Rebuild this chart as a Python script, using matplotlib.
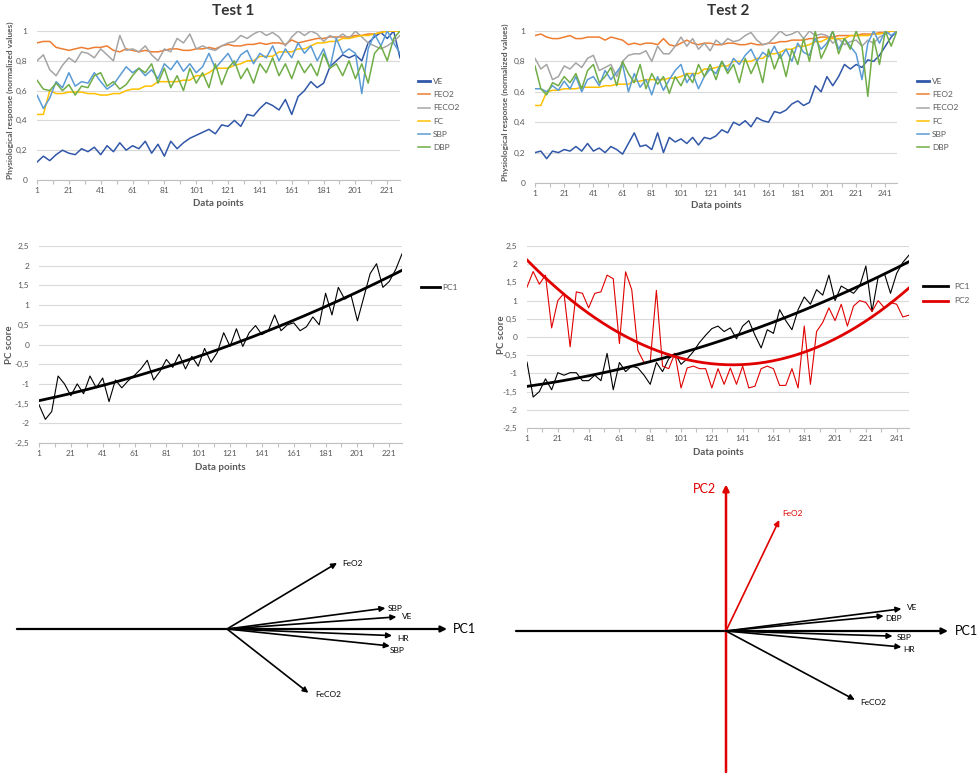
import numpy as np
import matplotlib.pyplot as plt
from matplotlib.ticker import FuncFormatter

plt.rcParams['font.family'] = ['Lato', 'DejaVu Sans']

# ---------------- data (read every 4th data point) ----------------
t1_x = np.arange(1, 230, 4)
t1_ve = [0.12, 0.16, 0.13, 0.17, 0.20, 0.18, 0.17, 0.21, 0.19, 0.22,
         0.17, 0.23, 0.19, 0.25, 0.20, 0.23, 0.21, 0.26, 0.18, 0.24,
         0.16, 0.26, 0.21, 0.25, 0.28, 0.30, 0.32, 0.34, 0.31, 0.37,
         0.36, 0.40, 0.36, 0.44, 0.43, 0.48, 0.52, 0.50, 0.47, 0.54,
         0.44, 0.56, 0.60, 0.66, 0.62, 0.65, 0.76, 0.80, 0.84, 0.82,
         0.84, 0.80, 0.92, 0.96, 0.99, 0.95, 1.00, 0.82]
t1_feo2 = [0.92, 0.93, 0.93, 0.89, 0.88, 0.87, 0.88, 0.89, 0.88, 0.89,
           0.89, 0.90, 0.87, 0.86, 0.88, 0.87, 0.86, 0.87, 0.86, 0.86,
           0.87, 0.88, 0.88, 0.87, 0.87, 0.88, 0.88, 0.89, 0.88, 0.90,
           0.91, 0.90, 0.90, 0.91, 0.91, 0.92, 0.91, 0.92, 0.92, 0.91,
           0.94, 0.92, 0.93, 0.94, 0.95, 0.95, 0.96, 0.96, 0.96, 0.96,
           0.97, 0.97, 0.98, 0.98, 0.99, 1.00, 1.00, 1.00]
t1_feco2 = [0.80, 0.84, 0.74, 0.70, 0.77, 0.82, 0.79, 0.86, 0.85, 0.82,
            0.88, 0.84, 0.80, 0.97, 0.87, 0.88, 0.86, 0.90, 0.84, 0.80,
            0.88, 0.86, 0.95, 0.92, 0.98, 0.88, 0.90, 0.88, 0.87, 0.90,
            0.92, 0.93, 0.97, 0.95, 0.98, 1.00, 0.97, 0.99, 0.96, 0.90,
            0.96, 1.00, 0.97, 1.00, 0.98, 0.93, 0.97, 0.95, 0.98, 0.95,
            1.00, 0.96, 0.92, 0.90, 0.88, 0.90, 0.93, 0.97]
t1_fc = [0.44, 0.44, 0.60, 0.58, 0.58, 0.59, 0.59, 0.59, 0.58, 0.58,
         0.57, 0.57, 0.58, 0.58, 0.60, 0.61, 0.61, 0.63, 0.63, 0.66,
         0.66, 0.66, 0.66, 0.67, 0.67, 0.70, 0.70, 0.72, 0.75, 0.75,
         0.75, 0.77, 0.78, 0.80, 0.80, 0.83, 0.83, 0.83, 0.86, 0.86,
         0.86, 0.88, 0.88, 0.90, 0.92, 0.92, 0.93, 0.93, 0.95, 0.95,
         0.96, 0.97, 0.97, 0.98, 0.99, 1.00, 1.00, 1.00]
t1_sbp = [0.57, 0.48, 0.55, 0.66, 0.62, 0.72, 0.63, 0.66, 0.65, 0.72,
          0.66, 0.61, 0.64, 0.70, 0.76, 0.72, 0.75, 0.70, 0.74, 0.68,
          0.78, 0.74, 0.80, 0.73, 0.78, 0.72, 0.76, 0.85, 0.75, 0.80,
          0.85, 0.77, 0.84, 0.87, 0.78, 0.85, 0.82, 0.90, 0.80, 0.88,
          0.82, 0.92, 0.85, 0.90, 0.80, 0.88, 0.75, 0.95, 0.85, 0.88,
          0.85, 0.58, 0.88, 0.98, 0.90, 1.00, 0.92, 0.85]
t1_dbp = [0.67, 0.61, 0.60, 0.65, 0.60, 0.64, 0.57, 0.63, 0.62, 0.70,
          0.72, 0.63, 0.66, 0.61, 0.64, 0.70, 0.75, 0.72, 0.78, 0.65,
          0.75, 0.62, 0.70, 0.60, 0.75, 0.65, 0.72, 0.62, 0.78, 0.64,
          0.75, 0.80, 0.68, 0.75, 0.65, 0.78, 0.72, 0.82, 0.70, 0.78,
          0.68, 0.80, 0.72, 0.78, 0.70, 0.85, 0.75, 0.78, 0.70, 0.80,
          0.68, 0.78, 0.65, 0.85, 0.90, 0.80, 0.95, 1.00]

t2_x = np.arange(1, 250, 4)
t2_ve = [0.20, 0.21, 0.16, 0.21, 0.20, 0.22, 0.21, 0.24, 0.21, 0.26,
         0.21, 0.23, 0.20, 0.24, 0.22, 0.19, 0.26, 0.33, 0.24, 0.25,
         0.22, 0.33, 0.20, 0.30, 0.27, 0.29, 0.26, 0.30, 0.25, 0.30,
         0.29, 0.31, 0.35, 0.33, 0.40, 0.38, 0.41, 0.37, 0.43, 0.41,
         0.40, 0.47, 0.46, 0.48, 0.52, 0.54, 0.51, 0.53, 0.64, 0.60,
         0.70, 0.64, 0.70, 0.78, 0.75, 0.78, 0.76, 0.81, 0.80, 0.84,
         0.90, 0.96, 1.00]
t2_feo2 = [0.97, 0.98, 0.96, 0.95, 0.95, 0.96, 0.97, 0.95, 0.95, 0.96,
           0.96, 0.96, 0.94, 0.96, 0.95, 0.94, 0.91, 0.92, 0.91, 0.92,
           0.92, 0.91, 0.95, 0.91, 0.90, 0.92, 0.94, 0.92, 0.91, 0.92,
           0.92, 0.91, 0.91, 0.92, 0.92, 0.91, 0.91, 0.92, 0.91, 0.91,
           0.92, 0.92, 0.93, 0.93, 0.94, 0.94, 0.94, 0.95, 0.95, 0.96,
           0.96, 0.96, 0.97, 0.97, 0.97, 0.97, 0.98, 0.98, 0.98, 0.99,
           0.99, 1.00, 1.00]
t2_feco2 = [0.82, 0.75, 0.78, 0.68, 0.70, 0.77, 0.75, 0.79, 0.76, 0.82,
            0.84, 0.74, 0.76, 0.78, 0.70, 0.80, 0.84, 0.85, 0.85, 0.87,
            0.80, 0.90, 0.85, 0.85, 0.90, 0.96, 0.90, 0.95, 0.88, 0.92,
            0.87, 0.94, 0.91, 0.95, 0.93, 0.94, 0.97, 0.99, 0.94, 0.91,
            0.92, 0.96, 1.00, 0.97, 0.98, 1.00, 0.95, 1.00, 0.97, 0.98,
            0.97, 0.92, 0.95, 0.91, 0.93, 0.94, 0.90, 0.94, 0.92, 0.96,
            0.98, 1.00, 1.00]
t2_fc = [0.51, 0.51, 0.60, 0.61, 0.61, 0.62, 0.62, 0.62, 0.63, 0.63,
         0.63, 0.63, 0.64, 0.64, 0.65, 0.65, 0.65, 0.67, 0.67, 0.68,
         0.68, 0.68, 0.68, 0.69, 0.69, 0.70, 0.72, 0.72, 0.72, 0.75,
         0.75, 0.76, 0.77, 0.77, 0.80, 0.80, 0.80, 0.80, 0.82, 0.82,
         0.85, 0.85, 0.86, 0.88, 0.88, 0.90, 0.90, 0.91, 0.93, 0.93,
         0.95, 0.95, 0.95, 0.95, 0.97, 0.97, 0.97, 0.97, 0.98, 0.98,
         0.99, 1.00, 1.00]
t2_sbp = [0.62, 0.62, 0.60, 0.64, 0.61, 0.67, 0.62, 0.70, 0.60, 0.68,
          0.70, 0.64, 0.74, 0.68, 0.73, 0.78, 0.60, 0.72, 0.63, 0.68,
          0.58, 0.70, 0.61, 0.68, 0.74, 0.78, 0.66, 0.72, 0.62, 0.70,
          0.75, 0.72, 0.80, 0.74, 0.82, 0.78, 0.84, 0.88, 0.80, 0.86,
          0.83, 0.90, 0.82, 0.88, 0.80, 0.92, 0.86, 0.84, 0.95, 0.88,
          0.92, 1.00, 0.88, 0.95, 0.90, 0.85, 0.68, 0.92, 1.00, 0.92,
          1.00, 0.97, 1.00]
t2_dbp = [0.77, 0.62, 0.58, 0.66, 0.64, 0.70, 0.66, 0.72, 0.62, 0.74,
          0.78, 0.66, 0.70, 0.76, 0.64, 0.80, 0.72, 0.66, 0.78, 0.62,
          0.72, 0.65, 0.70, 0.59, 0.70, 0.64, 0.72, 0.66, 0.78, 0.70,
          0.78, 0.68, 0.80, 0.72, 0.78, 0.66, 0.82, 0.72, 0.80, 0.66,
          0.88, 0.75, 0.85, 0.70, 0.88, 0.78, 0.95, 0.80, 1.00, 0.82,
          0.90, 1.00, 0.85, 0.95, 0.88, 1.00, 0.90, 0.57, 0.95, 0.78,
          1.00, 0.90, 1.00]

t1_pc1 = [-1.53, -1.90, -1.70, -0.80, -1.00, -1.30, -1.00, -1.25, -0.80, -1.10,
          -0.85, -1.45, -0.90, -1.10, -0.92, -0.78, -0.62, -0.40, -0.90, -0.68,
          -0.38, -0.58, -0.25, -0.62, -0.30, -0.55, -0.10, -0.45, -0.20, 0.30,
          -0.05, 0.40, -0.05, 0.30, 0.48, 0.25, 0.35, 0.75, 0.35, 0.50,
          0.55, 0.35, 0.45, 0.70, 0.50, 1.30, 0.75, 1.45, 1.15, 1.25,
          0.60, 1.20, 1.80, 2.05, 1.45, 1.60, 1.90, 2.30]
t2_pc1 = [-0.69, -1.65, -1.50, -1.15, -1.45, -0.98, -1.05, -0.98, -0.98, -1.20,
          -1.20, -1.05, -1.20, -0.45, -1.45, -0.70, -0.95, -0.80, -0.85, -1.05,
          -1.30, -0.70, -0.95, -0.60, -0.45, -0.75, -0.60, -0.40, -0.15, 0.05,
          0.23, 0.30, 0.15, 0.25, -0.05, 0.30, 0.45, 0.05, -0.30, 0.20,
          0.10, 0.75, 0.45, 0.20, 0.75, 1.10, 0.90, 1.30, 1.15, 1.70,
          1.00, 1.40, 1.30, 1.20, 1.40, 1.95, 0.70, 1.65, 1.75, 1.20,
          1.75, 2.05, 2.25]
t2_pc2 = [1.37, 1.80, 1.45, 1.70, 0.25, 1.00, 1.20, -0.27, 1.24, 1.20,
          0.80, 1.20, 1.24, 1.70, 1.60, -0.18, 1.79, 1.30, -0.37, -0.70,
          -0.69, 1.28, -0.80, -0.87, -0.45, -1.40, -0.85, -0.80, -0.87, -0.87,
          -1.40, -0.87, -1.30, -0.85, -1.30, -0.80, -1.40, -1.35, -0.87, -0.80,
          -0.87, -1.33, -1.33, -0.87, -1.40, 0.30, -1.30, 0.15, 0.40, 0.80,
          0.45, 0.90, 0.30, 0.85, 1.00, 0.95, 0.70, 1.00, 0.80, 0.95,
          0.90, 0.55, 0.60]

series_names = ['VE', 'FEO2', 'FECO2', 'FC', 'SBP', 'DBP']
series_colors = ['#3157a8', '#ed7d31', '#a5a5a5', '#ffc000', '#5b9bd5', '#70ad47']

# PCA loadings (PC1, PC2) of the biplots
load1_names = ['FeO2', 'SBP', 'VE', 'HR', 'SBP', 'FeCO2']
load1_pc1 = [0.50, 0.72, 0.77, 0.75, 0.74, 0.37]
load1_pc2 = [0.30, 0.095, 0.055, -0.03, -0.077, -0.29]
load2_names = ['FeO2', 'VE', 'DBP', 'SBP', 'HR', 'FeCO2']
load2_pc1 = [0.24, 0.79, 0.71, 0.75, 0.79, 0.58]
load2_pc2 = [0.50, 0.10, 0.068, -0.023, -0.072, -0.31]

# ---------------- figure ----------------
W, H = 979, 779
fig = plt.figure(figsize=(W / 100, H / 100), dpi=100)
GRAY = '#595959'


def px_axes(x0, y0, x1, y1):
    return fig.add_axes([x0 / W, 1 - y1 / H, (x1 - x0) / W, (y1 - y0) / H])


def ftext(x, y, s, **kw):
    fig.text(x / W, 1 - y / H, s, **kw)


comma = FuncFormatter(lambda v, p: f'{round(v, 2) + 0.0:g}'.replace('.', ','))


def excel_style(ax, xmax, ylo, yhi, ystep):
    ax.set_xlim(1, xmax)
    ax.set_ylim(ylo, yhi)
    ax.set_yticks(np.round(np.arange(ylo, yhi + ystep / 2, ystep), 2))
    ax.yaxis.set_major_formatter(comma)
    xt = np.arange(1, xmax + 1, 10)
    ax.set_xticks(xt)
    ax.set_xticklabels([str(v) if (v - 1) % 20 == 0 else '' for v in xt])
    ax.grid(axis='y', color='#d9d9d9', lw=0.8)
    ax.set_axisbelow(True)
    for s in ['top', 'right', 'left']:
        ax.spines[s].set_visible(False)
    ax.spines['bottom'].set_color('#bfbfbf')
    ax.tick_params(axis='y', length=0, labelsize=6, labelcolor=GRAY, pad=7)
    ax.tick_params(axis='x', length=3, color='#bfbfbf', labelsize=6,
                   labelcolor=GRAY, pad=2)


def legend_at(ax, handles, labels, x, y, hl, tp, ls):
    leg = ax.legend(handles, labels, loc='upper left', bbox_to_anchor=(x / W, 1 - y / H),
                    bbox_transform=fig.transFigure, frameon=False, fontsize=6,
                    handlelength=hl, handletextpad=tp, labelspacing=ls,
                    borderpad=0, borderaxespad=0, labelcolor=GRAY)
    return leg


# ---- top panels: physiological responses ----
tests = [
    (t1_x, [t1_ve, t1_feo2, t1_feco2, t1_fc, t1_sbp, t1_dbp], (37, 31, 400, 180), 229,
     'Test 1', 233, 418, 10),
    (t2_x, [t2_ve, t2_feo2, t2_feco2, t2_fc, t2_sbp, t2_dbp], (535, 31, 897, 183), 249,
     'Test 2', 728, 917, 505),
]
for xs, ys, box, xmax, title, tx, lx, ylx in tests:
    ax = px_axes(*box)
    lines = []
    for name, vals, col in zip(series_names, ys, series_colors):
        ln, = ax.plot(xs, vals, color=col, lw=1.1, label=name)
        lines.append(ln)
    excel_style(ax, xmax, 0, 1, 0.2)
    leg = legend_at(ax, lines, series_names, lx, 78, 1.45, 0.35, 0.75)
    leg.get_lines()[0].set_linewidth(2.0)
    ftext(tx, 11, title, ha='center', va='center', fontsize=11, fontweight='bold',
          color='#333333')
    ftext((box[0] + box[2]) / 2, box[3] + 23, 'Data points', ha='center', va='center',
          fontsize=7, fontweight='bold', color=GRAY)
    ftext(ylx, (box[1] + box[3]) / 2 - 5,
          'Physiological response (normalized values)', rotation=90,
          ha='center', va='center', fontsize=6, fontweight='bold', color=GRAY)

# ---- middle panels: PC scores with polynomial trendlines ----
ax = px_axes(39, 246, 402, 443)
ax.plot(t1_x, t1_pc1, color='black', lw=0.8)
xx = np.linspace(1, 229, 200)
tr1, = ax.plot(xx, np.polyval(np.polyfit(t1_x, t1_pc1, 2), xx), color='black', lw=2.0)
excel_style(ax, 229, -2.5, 2.5, 0.5)
legend_at(ax, [tr1], ['PC1'], 421, 284, 2.3, 0.3, 0.8)
ftext(220, 467, 'Data points', ha='center', va='center', fontsize=7,
      fontweight='bold', color=GRAY)
ftext(10, 345, 'PC score', rotation=90, ha='center', va='center', fontsize=7,
      fontweight='bold', color=GRAY)

ax = px_axes(527, 246, 909, 428)
ax.plot(t2_x, t2_pc1, color='black', lw=0.8)
ax.plot(t2_x, t2_pc2, color='#e00000', lw=0.8)
xx = np.linspace(1, 249, 200)
tr1, = ax.plot(xx, np.polyval(np.polyfit(t2_x, t2_pc1, 2), xx), color='black', lw=2.0)
tr2, = ax.plot(xx, np.polyval(np.polyfit(t2_x, t2_pc2, 2), xx), color='#e00000', lw=2.0)
excel_style(ax, 249, -2.5, 2.5, 0.5)
legend_at(ax, [tr1, tr2], ['PC1', 'PC2'], 923, 283, 3.0, 0.8, 0.9)
ftext(718, 453, 'Data points', ha='center', va='center', fontsize=7,
      fontweight='bold', color=GRAY)
ftext(502, 335, 'PC score', rotation=90, ha='center', va='center', fontsize=7,
      fontweight='bold', color=GRAY)


# ---- bottom panels: loading vectors ----
def arrow(ax, x0, y0, x1, y1, color='black', lw=1.2, ms=8):
    ax.annotate('', xy=(x1, y1), xytext=(x0, y0),
                arrowprops=dict(arrowstyle='-|>', color=color, lw=lw,
                                mutation_scale=ms, shrinkA=0, shrinkB=0))


# Test 1 biplot (1 unit = 220 px)
ax = px_axes(0, 530, 480, 720)
ax.set_xlim(-227 / 220, 253 / 220)
ax.set_ylim(-91 / 220, 99 / 220)
ax.axis('off')
arrow(ax, -0.955, 0, 1.0, 0, lw=1.6, ms=9)
ax.text(1.025, 0, 'PC1', ha='left', va='center', fontsize=9)
offs1 = [(4, 0), (2, 0), (4, 0), (4, -2), (0, -3), (5, -1)]
for name, px, py, off in zip(load1_names, load1_pc1, load1_pc2, offs1):
    arrow(ax, 0, 0, px, py)
    ax.annotate(name, (px, py), xytext=off, textcoords='offset points',
                ha='left', va='center', fontsize=6)

# Test 2 biplot (1 unit = 222 px)
ax = px_axes(490, 470, 979, 779)
ax.set_xlim(-236 / 222, 253 / 222)
ax.set_ylim(-148 / 222, 161 / 222)
ax.axis('off')
arrow(ax, -0.946, 0, 1.0, 0, lw=1.6, ms=9)
ax.text(1.03, 0, 'PC1', ha='left', va='center', fontsize=9)
arrow(ax, 0, -0.635, 0, 0.66, color='#e00000', lw=1.8, ms=9)
ax.text(-0.095, 0.64, 'PC2', ha='center', va='center', fontsize=9, color='#e00000')
offs2 = [(2, 5), (4, 1), (1, -2), (3, -1), (1, -2), (4, -2)]
for name, px, py, off in zip(load2_names, load2_pc1, load2_pc2, offs2):
    col = '#e00000' if name == 'FeO2' else 'black'
    arrow(ax, 0, 0, px, py, color=col)
    ax.annotate(name, (px, py), xytext=off, textcoords='offset points',
                ha='left', va='center', fontsize=6, color=col)

fig.savefig('out.png', dpi=100)
